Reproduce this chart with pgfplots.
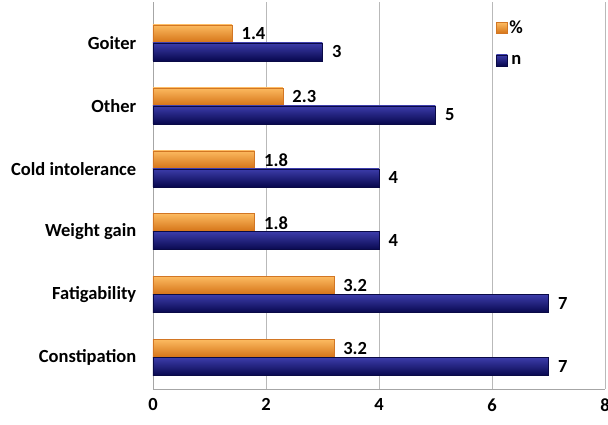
\documentclass[border=0pt]{standalone}
\usepackage{pgfplots}
\pgfplotsset{compat=1.18}
\usepackage{fontspec}
\setmainfont{Carlito}
\definecolor{orTop}{RGB}{252,186,96}
\definecolor{orMid}{RGB}{246,148,36}
\definecolor{orBot}{RGB}{212,114,22}
\definecolor{orEdge}{RGB}{210,118,36}
\definecolor{nvTop}{RGB}{60,60,170}
\definecolor{nvMid}{RGB}{18,18,122}
\definecolor{nvBot}{RGB}{8,8,78}
\definecolor{nvEdge}{RGB}{10,10,70}
\pgfplotsset{
  ob/.style={shading=axis, top color=orTop, middle color=orMid, bottom color=orBot, draw=orEdge, bar shift=9pt},
  nb/.style={shading=axis, top color=nvTop, middle color=nvMid, bottom color=nvBot, draw=nvEdge, bar shift=-9pt},
}
\begin{document}
\begin{tikzpicture}[x=1pt,y=1pt]
\useasboundingbox (0,0) rectangle (608,424);
\begin{axis}[
  at={(153pt,35pt)}, anchor=south west,
  width=452pt, height=387pt, scale only axis,
  xmin=0, xmax=8, ymin=-0.5, ymax=5.65,
  xtick={0,2,4,6,8},
  ytick={0,1,2,3,4,5},
  yticklabels={Constipation,Fatigability,Weight gain,Cold intolerance,Other,Goiter},
  xbar, bar width=18pt,
  axis x line*=bottom, axis y line*=left,
  axis line style={gray!70, line width=0.8pt},
  xmajorgrids, major grid style={gray!55, line width=0.8pt},
  tick style={draw=none},
  /pgf/number format/assume math mode=true,
  ticklabel style={font=\fontsize{18.5}{20}\selectfont\bfseries},
  y tick label style={xshift=-9pt},
  x tick label style={yshift=-6pt},
  nodes near coords,
  every node near coord/.append style={font=\fontsize{18.5}{20}\selectfont\bfseries, anchor=west, xshift=6pt},
  legend style={at={(0.752,0.962)}, anchor=north west, draw=none, fill=none,
    font=\fontsize{18.5}{20}\selectfont\bfseries, row sep=16pt},
  legend image code/.code={\path[#1] (0pt,-5.5pt) rectangle (11pt,5.5pt);},
]
\addplot[ob] coordinates {(1.4,5)};
\addlegendentry{\%}
\addplot[nb] coordinates {(3,5)};
\addlegendentry{n}
\addplot[ob, forget plot] coordinates {(2.3,4)};
\addplot[nb, forget plot] coordinates {(5,4)};
\addplot[ob, forget plot] coordinates {(1.8,3)};
\addplot[nb, forget plot] coordinates {(4,3)};
\addplot[ob, forget plot] coordinates {(1.8,2)};
\addplot[nb, forget plot] coordinates {(4,2)};
\addplot[ob, forget plot] coordinates {(3.2,1)};
\addplot[nb, forget plot] coordinates {(7,1)};
\addplot[ob, forget plot] coordinates {(3.2,0)};
\addplot[nb, forget plot] coordinates {(7,0)};
\end{axis}
\end{tikzpicture}
\end{document}
